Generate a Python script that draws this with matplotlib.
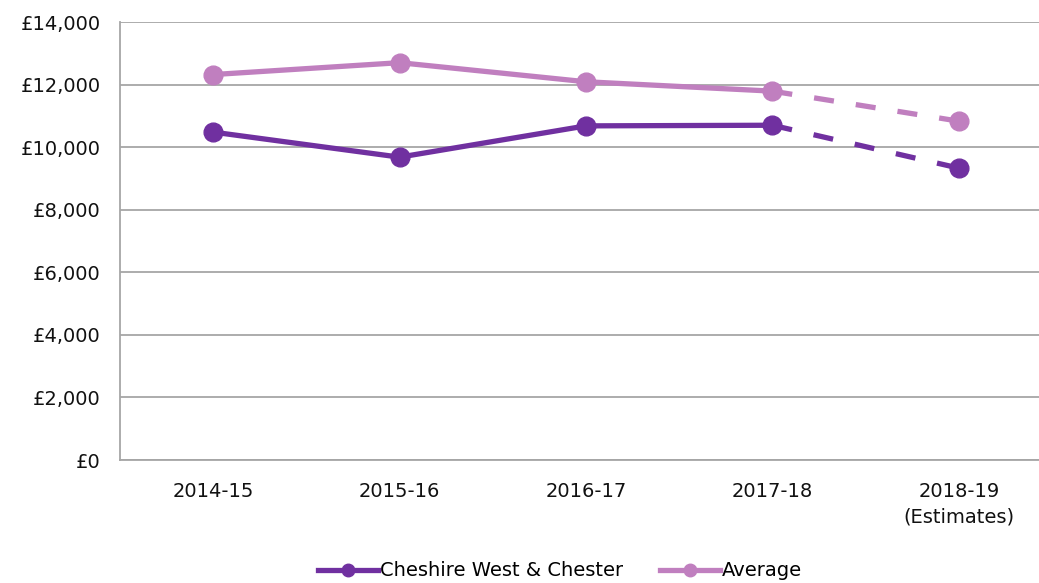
import matplotlib
matplotlib.use('Agg')
from matplotlib import pyplot as plt
from matplotlib.ticker import FuncFormatter
from matplotlib.lines import Line2D

PURPLE = '#7030A0'
LILAC = '#C07FBF'
GRID = '#A6A6A6'

years = ['2014-15', '2015-16', '2016-17', '2017-18', '2018-19\n(Estimates)']
cwc = [10480, 9680, 10680, 10700, 9330]
average = [12320, 12700, 12090, 11790, 10830]

plt.rcParams['font.family'] = ['DejaVu Sans']
fig = plt.figure(figsize=(10.39, 5.83), dpi=100)
ax = fig.add_axes([120 / 1039, 1 - 460 / 583, 932 / 1039, 438 / 583])

x = list(range(len(years)))
for vals, col in [(cwc, PURPLE), (average, LILAC)]:
    ax.plot(x[:4], vals[:4], color=col, lw=3.8, marker='o', ms=13.5, zorder=3)
    ax.plot(x[3:], vals[3:], color=col, lw=3.8, ls=(0, (3.8, 4.2)), zorder=3)
    ax.plot(x[4:], vals[4:], color=col, lw=0, marker='o', ms=13.5, zorder=3)

ax.set_xlim(-0.5, 4.5)
ax.set_ylim(0, 14000)
ax.set_yticks(range(0, 14001, 2000))
ax.yaxis.set_major_formatter(FuncFormatter(lambda v, p: '£{:,.0f}'.format(v)))
ax.set_xticks(x)
ax.set_xticklabels(years, linespacing=1.45)
ax.grid(axis='y', color=GRID, lw=1.3)
ax.set_axisbelow(True)
for s in ['top', 'right']:
    ax.spines[s].set_visible(False)
for s in ['left', 'bottom']:
    ax.spines[s].set_color(GRID)
    ax.spines[s].set_linewidth(1.3)
ax.tick_params(axis='both', length=0, labelsize=14, colors='#111111')
ax.tick_params(axis='x', pad=16)
ax.tick_params(axis='y', pad=14)

handles = [Line2D([], [], color=PURPLE, lw=3.8, marker='o', ms=9),
           Line2D([], [], color=LILAC, lw=3.8, marker='o', ms=9)]
fig.legend(handles, ['Cheshire West & Chester', 'Average'], loc='center',
           bbox_to_anchor=(560 / 1039, 1 - 571 / 583), ncol=2, frameon=False,
           fontsize=14, handlelength=3.1, handletextpad=0.1, columnspacing=1.9)

fig.savefig('out.png', dpi=100)
